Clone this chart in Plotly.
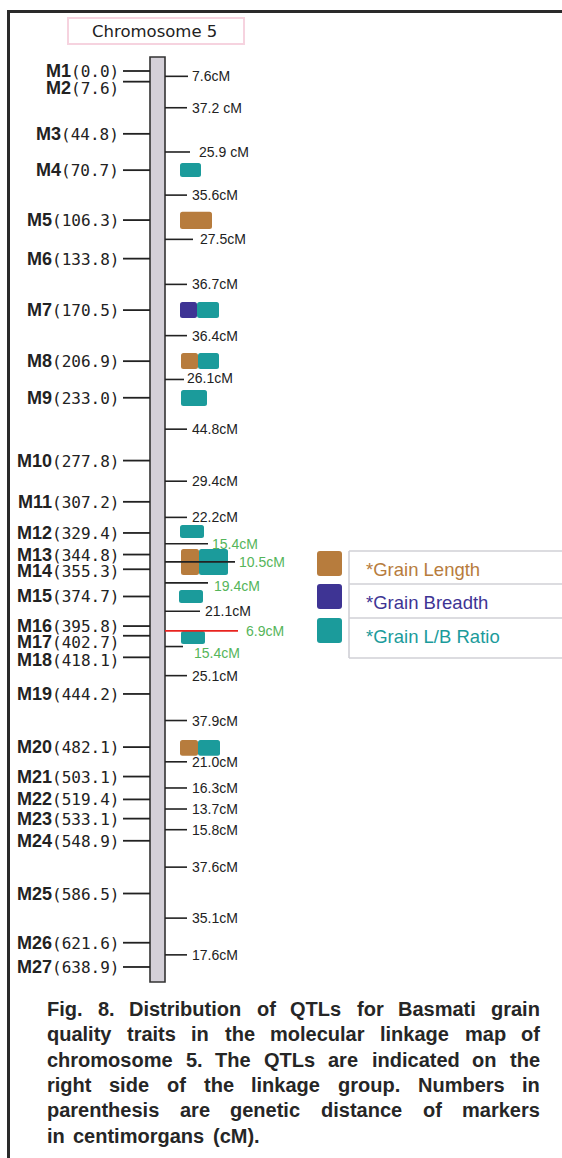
import plotly.graph_objects as go

# ---------------- data ----------------
marker_names = ["M1", "M2", "M3", "M4", "M5", "M6", "M7", "M8", "M9", "M10",
                "M11", "M12", "M13", "M14", "M15", "M16", "M17", "M18", "M19",
                "M20", "M21", "M22", "M23", "M24", "M25", "M26", "M27"]
marker_pos = [0.0, 7.6, 44.8, 70.7, 106.3, 133.8, 170.5, 206.9, 233.0, 277.8,
              307.2, 329.4, 344.8, 355.3, 374.7, 395.8, 402.7, 418.1, 444.2,
              482.1, 503.1, 519.4, 533.1, 548.9, 586.5, 621.6, 638.9]
interval_labels = ["7.6cM", "37.2 cM", "25.9 cM", "35.6cM", "27.5cM", "36.7cM",
                   "36.4cM", "26.1cM", "44.8cM", "29.4cM", "22.2cM", "15.4cM",
                   "10.5cM", "19.4cM", "21.1cM", "6.9cM", "15.4cM", "25.1cM",
                   "37.9cM", "21.0cM", "16.3cM", "13.7cM", "15.8cM", "37.6cM",
                   "35.1cM", "17.6cM"]
highlight_intervals = [11, 12, 13, 15, 16]   # green labels
red_interval = 15

trait_names = ["*Grain Length", "*Grain Breadth", "*Grain L/B Ratio"]
qtl_trait = [2, 0, 1, 2, 0, 2, 2, 2, 0, 2, 2, 2, 0, 2]
qtl_start = [65.6, 100.3, 164.7, 164.7, 201.1, 201.1, 227.5, 323.7, 340.8,
             340.8, 370.1, 399.3, 477.0, 477.0]
qtl_end = [75.6, 112.7, 176.1, 176.1, 212.5, 212.5, 238.9, 333.0, 359.4,
           359.4, 379.3, 408.6, 488.2, 488.2]
chrom_start, chrom_end = -10.0, 649.6

caption_lines = [
    "Fig. 8. Distribution of QTLs for Basmati grain",
    "quality traits in the molecular linkage map of",
    "chromosome 5. The QTLs are indicated on the",
    "right side of the linkage group. Numbers in",
    "parenthesis are genetic distance of markers",
    "in centimorgans (cM).",
]
title_text = "Chromosome 5"

# ---------------- styles / layout ----------------
W, H = 562, 1158
Y0, S = 71.0, 1.4024          # pixel of 0 cM, pixels per cM
trait_colors = ["#b77c3d", "#3e3494", "#1b9b9b"]
qtl_x = [(180, 201), (180, 212), (180, 197), (197, 219), (181, 198), (198, 219),
         (181, 207), (180, 204), (181, 199), (199, 228), (179, 203), (181, 205),
         (180, 198), (198, 220)]
DARK = "#222222"
GREEN = "#55b55a"
RED = "#e8231f"

# Arial / Liberation Sans Bold advance widths (em/1000) for caption justification
AB = {" ": 278, ".": 278, "(": 333, ")": 333, ",": 278}
AB.update({d: 556 for d in "0123456789"})
AB.update(dict(zip("ABCDEFGHIJKLMNOPQRSTUVWXYZ",
                   [722, 722, 722, 722, 667, 611, 778, 722, 278, 556, 722, 611,
                    833, 722, 778, 667, 778, 722, 667, 611, 722, 667, 944, 667,
                    667, 611])))
AB.update(dict(zip("abcdefghijklmnopqrstuvwxyz",
                   [556, 611, 556, 611, 556, 333, 611, 611, 278, 278, 556, 278,
                    889, 611, 611, 611, 611, 389, 556, 333, 611, 556, 778, 556,
                    556, 500])))


def text_w(s, size):
    return sum(AB.get(c, 556) for c in s) / 1000.0 * size


def pc(py):
    """pixel row -> cM on the y axis"""
    return (py - Y0) / S


def rrect(x0, x1, y0, y1, r=2.5):
    """rounded rectangle path; x in axis px units, y in cM"""
    ry = r / S
    return (f"M{x0+r},{y0} L{x1-r},{y0} Q{x1},{y0} {x1},{y0+ry} "
            f"L{x1},{y1-ry} Q{x1},{y1} {x1-r},{y1} L{x0+r},{y1} "
            f"Q{x0},{y1} {x0},{y1-ry} L{x0},{y0+ry} Q{x0},{y0} {x0+r},{y0} Z")


shapes = []
ann = []

# frame
shapes.append(dict(type="line", x0=8.5, x1=8.5, y0=pc(10), y1=pc(H + 5),
                   line=dict(color="#2a2a2a", width=3)))
shapes.append(dict(type="line", x0=7, x1=W + 5, y0=pc(11.5), y1=pc(11.5),
                   line=dict(color="#2a2a2a", width=3)))

# title box
shapes.append(dict(type="rect", x0=68, x1=244, y0=pc(18), y1=pc(44),
                   line=dict(color="#f6d3df", width=2), fillcolor="white"))
ann.append(dict(x=154, y=pc(31), text=title_text, showarrow=False,
                xanchor="center", yanchor="middle",
                font=dict(family="DejaVu Sans", size=16.5, color=DARK)))

# chromosome bar
shapes.append(dict(type="rect", x0=150, x1=165, y0=chrom_start, y1=chrom_end,
                   line=dict(color="#333333", width=1.6), fillcolor="#d4d0d8"))

# QTL boxes
for t, s, e, (xa, xb) in zip(qtl_trait, qtl_start, qtl_end, qtl_x):
    shapes.append(dict(type="path", path=rrect(xa, xb, s, e),
                       fillcolor=trait_colors[t], line=dict(width=0)))

# marker ticks & labels
label_dy = {"M2": -6, "M14": -2, "M17": -6, "M18": -3}
for name, pos in zip(marker_names, marker_pos):
    shapes.append(dict(type="line", x0=123, x1=150, y0=pos, y1=pos,
                       line=dict(color=DARK, width=1.8)))
    txt = (f"<b>{name}</b><span style='font-family:DejaVu Sans Mono;"
           f"font-size:16px;font-weight:normal'>({pos:.1f})</span>")
    ann.append(dict(x=121, y=pos, text=txt, showarrow=False, xanchor="right",
                    yanchor="middle", yshift=label_dy.get(name, 0),
                    font=dict(family="Liberation Sans", size=18, color=DARK)))

# interval ticks & labels
line_end = {0: 188, 2: 190, 4: 193, 7: 184, 11: 208, 12: 235, 13: 208,
            14: 200, 15: 238, 16: 183}
label_x = {2: 197, 4: 198, 7: 185, 11: 210, 12: 237, 13: 212, 14: 203,
           15: 244, 16: 192}
lab_dy = {13: -3, 16: -6, 7: 1}
for i, lab in enumerate(interval_labels):
    mid = (marker_pos[i] + marker_pos[i + 1]) / 2
    col = RED if i == red_interval else DARK
    shapes.append(dict(type="line", x0=165, x1=line_end.get(i, 187),
                       y0=mid, y1=mid, line=dict(color=col, width=1.6)))
    tcol = GREEN if i in highlight_intervals else DARK
    ann.append(dict(x=label_x.get(i, 190), y=mid, text=lab, showarrow=False,
                    xanchor="left", yanchor="middle", yshift=lab_dy.get(i, 0),
                    font=dict(family="Liberation Sans", size=14, color=tcol)))

# legend
leg_rows = [(551, 576), (584, 609), (618, 643)]
for k, (a, b) in enumerate(leg_rows):
    shapes.append(dict(type="path", path=rrect(317, 342, pc(a), pc(b), r=3),
                       fillcolor=trait_colors[k], line=dict(width=0)))
    ann.append(dict(x=364, y=pc((a + b) / 2 + 6), text=trait_names[k],
                    showarrow=False, xanchor="left", yanchor="middle",
                    font=dict(family="Liberation Sans", size=18.5,
                              color=trait_colors[k])))
for yy in (551, 584, 618, 658):
    shapes.append(dict(type="line", x0=349, x1=W + 5, y0=pc(yy), y1=pc(yy),
                       line=dict(color="#d0d0d6", width=1.6)))
shapes.append(dict(type="line", x0=349, x1=349, y0=pc(551), y1=pc(658),
                   line=dict(color="#d0d0d6", width=1.6)))

# caption (justified word by word)
CAP_SIZE = 20
CAP_L, CAP_R = 45, 538
for j, line in enumerate(caption_lines):
    words = line.split(" ")
    widths = [text_w(w, CAP_SIZE) for w in words]
    if j < len(caption_lines) - 1 and len(words) > 1:
        gap = (CAP_R - CAP_L - sum(widths)) / (len(words) - 1)
    else:
        gap = text_w(" ", CAP_SIZE) + 3
    x = CAP_L
    yrow = pc(1009 + j * 25.3)
    for w, ww in zip(words, widths):
        ann.append(dict(x=x, y=yrow, text=f"<b>{w}</b>", showarrow=False,
                        xanchor="left", yanchor="middle",
                        font=dict(family="Liberation Sans", size=CAP_SIZE,
                                  color="#262626")))
        x += ww + gap

fig = go.Figure()
fig.update_layout(
    width=W, height=H,
    margin=dict(l=0, r=0, t=0, b=0, pad=0),
    paper_bgcolor="white", plot_bgcolor="white",
    xaxis=dict(range=[0, W], visible=False, fixedrange=True),
    yaxis=dict(range=[pc(H), pc(0)], visible=False, fixedrange=True),
    shapes=shapes, annotations=ann, showlegend=False,
)
fig.write_html("out.html", config={"displayModeBar": False},
               post_script="document.body.style.margin='0';"
                           "document.body.style.overflow='hidden';")
